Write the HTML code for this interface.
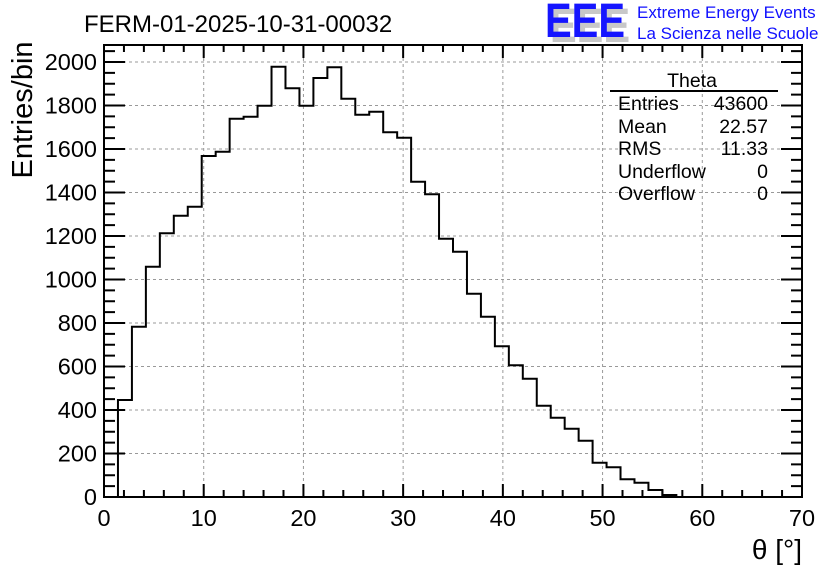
<!DOCTYPE html>
<html><head><meta charset="utf-8"><style>
html,body{margin:0;padding:0;background:#fff;}
svg{display:block;font-family:"Liberation Sans",Arial,sans-serif;}
</style></head><body>
<svg width="836" height="572" viewBox="0 0 836 572" xmlns="http://www.w3.org/2000/svg">
<rect width="836" height="572" fill="#fff"/>
<g stroke="#999" stroke-width="1" stroke-dasharray="3,3" fill="none">
<path d="M203.71,46V496M303.43,46V496M403.14,46V496M502.86,46V496M602.57,46V496M702.29,46V496"/>
<path d="M105,453.5H801M105,410H801M105,366.5H801M105,323H801M105,279.5H801M105,236H801M105,192.5H801M105,149H801M105,105.5H801M105,62H801"/>
</g>
<path fill="none" stroke="#000" stroke-width="2" d="M104,497 H117.96 V400 H131.92 V326.7 H145.88 V266.7 H159.84 V233.3 H173.8 V215.7 H187.76 V206.7 H201.72 V156 H215.68 V151.7 H229.64 V118.7 H243.6 V116.7 H257.56 V105.7 H271.52 V66.7 H285.48 V88.3 H299.44 V105.7 H313.4 V78 H327.36 V67.3 H341.32 V98.7 H355.28 V114.7 H369.24 V111.7 H383.2 V132.3 H397.16 V137.7 H411.12 V181.7 H425.08 V194.3 H439.04 V238.7 H453 V251.7 H466.96 V293.7 H480.92 V316.7 H494.88 V346.3 H508.84 V365.3 H522.8 V378.7 H536.76 V405.7 H550.72 V417.7 H564.68 V428.7 H578.64 V440.7 H592.6 V462.7 H606.56 V467.3 H620.52 V479.3 H634.48 V482.7 H648.44 V490 H662.4 V495 H676.36 V497 H802"/>
<g stroke="#000" stroke-width="2" fill="none">
<path d="M104,497v-13M123.94,497v-7M143.89,497v-7M163.83,497v-7M183.77,497v-7M203.71,497v-13M223.66,497v-7M243.6,497v-7M263.54,497v-7M283.49,497v-7M303.43,497v-13M323.37,497v-7M343.31,497v-7M363.26,497v-7M383.2,497v-7M403.14,497v-13M423.09,497v-7M443.03,497v-7M462.97,497v-7M482.91,497v-7M502.86,497v-13M522.8,497v-7M542.74,497v-7M562.69,497v-7M582.63,497v-7M602.57,497v-13M622.51,497v-7M642.46,497v-7M662.4,497v-7M682.34,497v-7M702.29,497v-13M722.23,497v-7M742.17,497v-7M762.11,497v-7M782.06,497v-7"/>
<path d="M123.94,45v7M143.89,45v7M163.83,45v7M183.77,45v7M203.71,45v13M223.66,45v7M243.6,45v7M263.54,45v7M283.49,45v7M303.43,45v13M323.37,45v7M343.31,45v7M363.26,45v7M383.2,45v7M403.14,45v13M423.09,45v7M443.03,45v7M462.97,45v7M482.91,45v7M502.86,45v13M522.8,45v7M542.74,45v7M562.69,45v7M582.63,45v7M602.57,45v13M622.51,45v7M642.46,45v7M662.4,45v7M682.34,45v7M702.29,45v13M722.23,45v7M742.17,45v7M762.11,45v7M782.06,45v7"/>
<path d="M104,486.13h11M104,475.25h11M104,464.38h11M104,453.5h21M104,442.63h11M104,431.75h11M104,420.88h11M104,410h21M104,399.13h11M104,388.25h11M104,377.38h11M104,366.5h21M104,355.63h11M104,344.75h11M104,333.88h11M104,323h21M104,312.13h11M104,301.25h11M104,290.38h11M104,279.5h21M104,268.63h11M104,257.75h11M104,246.88h11M104,236h21M104,225.13h11M104,214.25h11M104,203.38h11M104,192.5h21M104,181.63h11M104,170.75h11M104,159.88h11M104,149h21M104,138.13h11M104,127.25h11M104,116.38h11M104,105.5h21M104,94.63h11M104,83.75h11M104,72.88h11M104,62h21M104,51.13h11"/>
<path d="M802,486.13h-11M802,475.25h-11M802,464.38h-11M802,453.5h-21M802,442.63h-11M802,431.75h-11M802,420.88h-11M802,410h-21M802,399.13h-11M802,388.25h-11M802,377.38h-11M802,366.5h-21M802,355.63h-11M802,344.75h-11M802,333.88h-11M802,323h-21M802,312.13h-11M802,301.25h-11M802,290.38h-11M802,279.5h-21M802,268.63h-11M802,257.75h-11M802,246.88h-11M802,236h-21M802,225.13h-11M802,214.25h-11M802,203.38h-11M802,192.5h-21M802,181.63h-11M802,170.75h-11M802,159.88h-11M802,149h-21M802,138.13h-11M802,127.25h-11M802,116.38h-11M802,105.5h-21M802,94.63h-11M802,83.75h-11M802,72.88h-11M802,62h-21M802,51.13h-11"/>
</g>
<rect x="104" y="45" width="698" height="452" fill="none" stroke="#000" stroke-width="2"/>
<g font-size="23.5" fill="#000" text-anchor="middle">
<text x="104" y="526">0</text><text x="203.71" y="526">10</text><text x="303.43" y="526">20</text><text x="403.14" y="526">30</text><text x="502.86" y="526">40</text><text x="602.57" y="526">50</text><text x="702.29" y="526">60</text><text x="802" y="526">70</text>
</g>
<g font-size="23.5" fill="#000" text-anchor="end">
<text x="97" y="505">0</text><text x="97" y="461.5">200</text><text x="97" y="418">400</text><text x="97" y="374.5">600</text><text x="97" y="331">800</text><text x="97" y="287.5">1000</text><text x="97" y="244">1200</text><text x="97" y="200.5">1400</text><text x="97" y="157">1600</text><text x="97" y="113.5">1800</text><text x="97" y="70">2000</text>
</g>
<text x="84" y="32" font-size="24">FERM-01-2025-10-31-00032</text>
<text transform="translate(32,110) rotate(-90)" font-size="29" text-anchor="middle">Entries/bin</text>
<text x="802" y="559" font-size="28" text-anchor="end">θ [°]</text>
<g font-size="48" font-family="Liberation Sans, sans-serif" font-weight="bold">
<text x="550" y="42" fill="#c8c8c8" textLength="80" lengthAdjust="spacingAndGlyphs">EEE</text>
<text x="545" y="37" fill="#1515ff" textLength="80" lengthAdjust="spacingAndGlyphs">EEE</text>
</g>
<text x="637" y="18" font-size="17" fill="#1010ff">Extreme Energy Events</text>
<text x="637" y="39" font-size="17" fill="#1010ff">La Scienza nelle Scuole</text>
<line x1="610" y1="91" x2="778" y2="91" stroke="#000" stroke-width="2"/>
<g font-size="19.5" fill="#000">
<text x="692" y="87" text-anchor="middle">Theta</text>
<text x="618" y="110">Entries</text><text x="768" y="110" text-anchor="end">43600</text>
<text x="618" y="133">Mean</text><text x="768" y="133" text-anchor="end">22.57</text>
<text x="618" y="155">RMS</text><text x="768" y="155" text-anchor="end">11.33</text>
<text x="618" y="178">Underflow</text><text x="768" y="178" text-anchor="end">0</text>
<text x="618" y="200">Overflow</text><text x="768" y="200" text-anchor="end">0</text>
</g>
</svg>
</body></html>
